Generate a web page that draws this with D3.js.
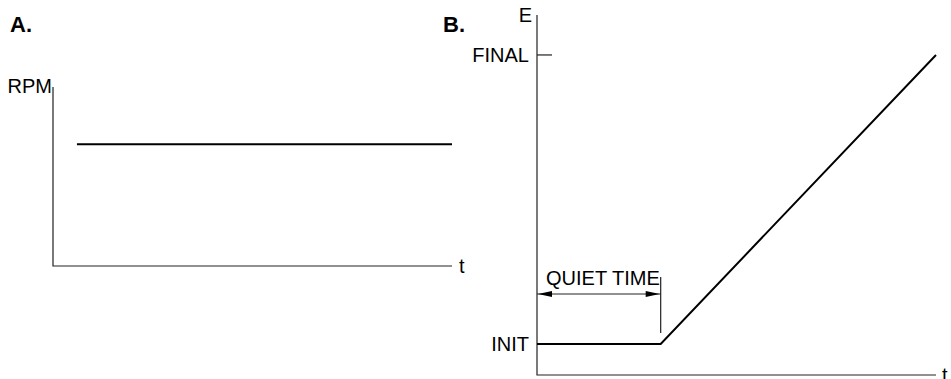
<!DOCTYPE html>
<html>
<head>
<meta charset="utf-8">
<script src="https://cdn.jsdelivr.net/npm/d3@7"></script>
<style>
  body { margin: 0; background: #fff; }
  text { font-family: "Liberation Sans", Arial, sans-serif; fill: #000; }
</style>
</head>
<body>
<svg id="chart"></svg>
<script>
// panel A: constant rotor speed over time
const rpmTimes = [0.06, 1.0];
const rpmValues = [0.68, 0.68];

// panel B: potential held at INIT during quiet time, then ramped to FINAL
const eTimes = [0, 0.31, 1.0];
const eValues = [0.086, 0.086, 0.889];
const quietEnd = 0.31;
const eTickLabels = [{ label: "FINAL", value: 0.889, tick: true }, { label: "INIT", value: 0.086, tick: false }];

const width = 951, height = 379;
const svg = d3.select("#chart").attr("width", width).attr("height", height);

// ---- panel A
const xA = d3.scaleLinear().domain([0, 1]).range([53, 452]);
const yA = d3.scaleLinear().domain([0, 1]).range([266, 87]);
const gA = svg.append("g");

gA.append("path")
  .attr("d", `M${xA(0)},${yA(1)}V${yA(0)}H${xA(1)}`)
  .attr("fill", "none").attr("stroke", "#222").attr("stroke-width", 1.2);

gA.append("path")
  .datum(rpmTimes.map((t, i) => [t, rpmValues[i]]))
  .attr("d", d3.line().x(d => xA(d[0])).y(d => yA(d[1])))
  .attr("fill", "none").attr("stroke", "#000").attr("stroke-width", 2);

gA.append("text").attr("x", xA(0) - 1).attr("y", yA(1) + 6)
  .attr("text-anchor", "end").style("font-size", "20px").text("RPM");
gA.append("text").attr("x", xA(1) + 7).attr("y", yA(0) + 7)
  .style("font-size", "20px").text("t");
gA.append("text").attr("x", 10).attr("y", 32)
  .style("font-size", "22px").style("font-weight", "bold").text("A.");

// ---- panel B
const xB = d3.scaleLinear().domain([0, 1]).range([537, 936]);
const yB = d3.scaleLinear().domain([0, 1]).range([375, 15]);
const gB = svg.append("g");

gB.append("path")
  .attr("d", `M${xB(0)},${yB(1)}V${yB(0)}H${xB(1)}`)
  .attr("fill", "none").attr("stroke", "#222").attr("stroke-width", 1.2);

gB.append("path")
  .datum(eTimes.map((t, i) => [t, eValues[i]]))
  .attr("d", d3.line().x(d => xB(d[0])).y(d => yB(d[1])))
  .attr("fill", "none").attr("stroke", "#000").attr("stroke-width", 2);

eTickLabels.forEach(d => {
  gB.append("text").attr("x", xB(0) - 8).attr("y", yB(d.value) + 7)
    .attr("text-anchor", "end").style("font-size", "20px").text(d.label);
  if (d.tick) {
    gB.append("line")
      .attr("x1", xB(0)).attr("x2", xB(0) + 15)
      .attr("y1", yB(d.value)).attr("y2", yB(d.value))
      .attr("stroke", "#222").attr("stroke-width", 1.2);
  }
});

// quiet time marker and double arrow
const qx = xB(quietEnd);
gB.append("line").attr("x1", qx).attr("x2", qx)
  .attr("y1", 277).attr("y2", 333)
  .attr("stroke", "#222").attr("stroke-width", 1.2);
const ay = 294;
gB.append("line").attr("x1", xB(0)).attr("x2", qx)
  .attr("y1", ay).attr("y2", ay)
  .attr("stroke", "#222").attr("stroke-width", 1.2);
gB.append("path")
  .attr("d", `M${xB(0) + 1},${ay}l14,-3v6z M${qx - 1},${ay}l-14,-3v6z`)
  .attr("fill", "#000");
gB.append("text").attr("x", xB(0) + 9).attr("y", 285)
  .style("font-size", "20px").text("QUIET TIME");

gB.append("text").attr("x", xB(0) - 5).attr("y", 22)
  .attr("text-anchor", "end").style("font-size", "20px").text("E");
gB.append("text").attr("x", xB(1) + 6).attr("y", yB(0) + 7)
  .style("font-size", "20px").text("t");
gB.append("text").attr("x", 443).attr("y", 32)
  .style("font-size", "22px").style("font-weight", "bold").text("B.");
</script>
</body>
</html>
